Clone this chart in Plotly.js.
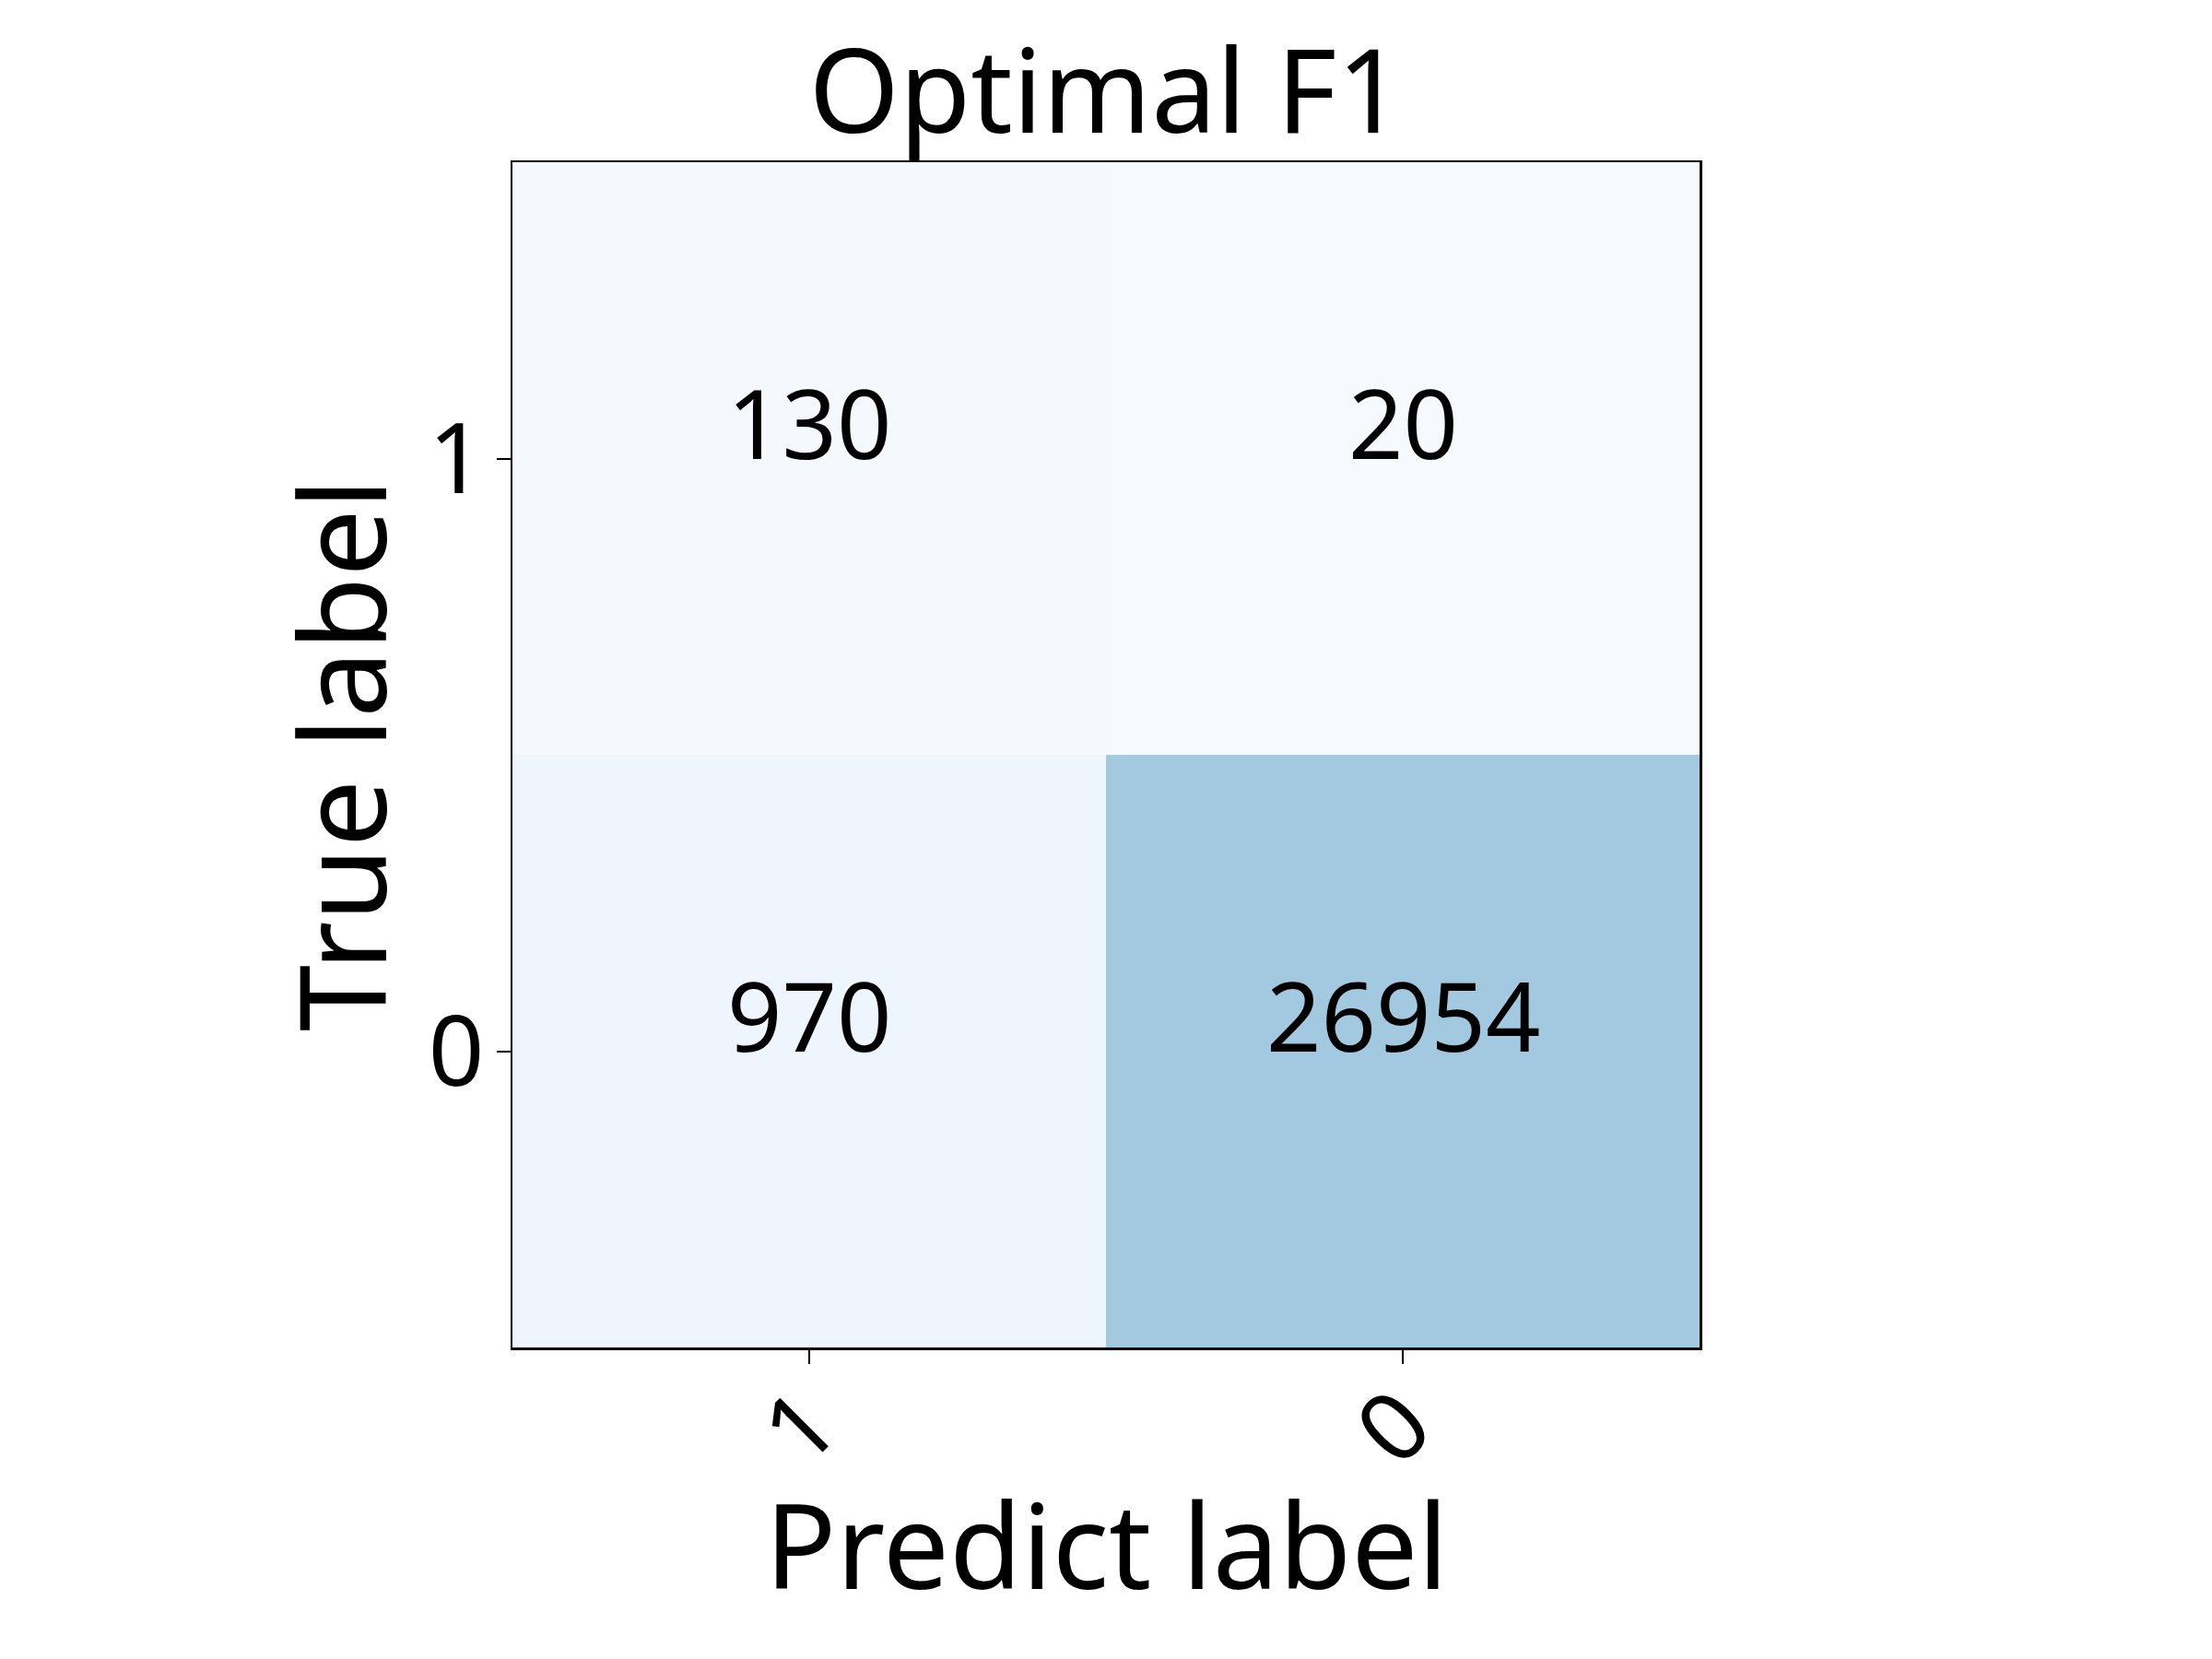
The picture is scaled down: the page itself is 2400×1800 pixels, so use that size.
<!DOCTYPE html>
<html>
<head>
<meta charset="utf-8">
<script src="https://cdn.plot.ly/plotly-3.0.1.min.js"></script>
<style>html,body{margin:0;padding:0;background:#fff;}</style>
</head>
<body>
<div id="chart" style="width:2400px;height:1800px;"></div>
<script>
// Data
const predictLabels = ['1', '0'];
const trueLabels = ['0', '1'];          // bottom to top
const rowTrue0 = [970, 26954];
const rowTrue1 = [130, 20];
const chartTitle = 'Optimal F1';
const xTitle = 'Predict label';
const yTitle = 'True label';

const z = [rowTrue0, rowTrue1];
const all = rowTrue1.concat(rowTrue0);
const zmin = Math.min(...all), zmax = Math.max(...all);
const nrm = v => (v - zmin) / (zmax - zmin);

const colorscale = [
  [0, '#f6faff'],
  [nrm(130), '#f5f9fe'],
  [nrm(970), '#eef5fc'],
  [1, '#a3c9e1']
];

const FONT = 'Noto Sans, Open Sans, DejaVu Sans, sans-serif';

const trace = {
  type: 'heatmap',
  x: predictLabels,
  y: trueLabels,
  z: z,
  zmin: zmin,
  zmax: zmax,
  colorscale: colorscale,
  showscale: false,
  hoverinfo: 'skip',
  xgap: 0, ygap: 0
};

// cell value labels
const annotations = [];
z.forEach((row, i) => {
  row.forEach((v, j) => {
    annotations.push({
      x: j, y: i, xref: 'x', yref: 'y',
      text: String(v), showarrow: false,
      yshift: 40,
      font: {family: FONT, size: 104, color: '#000000'}
    });
  });
});
// x-axis title
annotations.push({
  x: 0.5, y: -0.1649, xref: 'paper', yref: 'paper',
  xanchor: 'center', yanchor: 'middle',
  text: xTitle, showarrow: false,
  font: {family: FONT, size: 128, color: '#000000'}
});

const layout = {
  width: 2400,
  height: 1800,
  paper_bgcolor: '#ffffff',
  plot_bgcolor: '#ffffff',
  margin: {l: 556, r: 556, t: 176, b: 338, pad: 0},
  font: {family: FONT, color: '#000000'},
  title: {
    text: chartTitle,
    font: {family: FONT, size: 126, color: '#000000'},
    x: 0.5, xanchor: 'center',
    xref: 'paper',
    yref: 'container', y: 1 - 100 / 1800, yanchor: 'middle'
  },
  annotations: annotations,
  xaxis: {
    type: 'category',
    categoryorder: 'array',
    categoryarray: predictLabels,
    showline: true, mirror: true, linecolor: '#000000', linewidth: 2.5,
    ticks: 'outside', ticklen: 15, tickwidth: 2, tickcolor: '#000000',
    tickangle: -45,
    ticklabelstandoff: -36,
    tickfont: {family: FONT, size: 104, color: '#000000'},
    showgrid: false, zeroline: false,
    automargin: false
  },
  yaxis: {
    type: 'category',
    categoryorder: 'array',
    categoryarray: trueLabels,
    showline: true, mirror: true, linecolor: '#000000', linewidth: 2.5,
    ticks: 'outside', ticklen: 15, tickwidth: 2, tickcolor: '#000000',
    ticklabelstandoff: -8,
    tickfont: {family: FONT, size: 106, color: '#000000'},
    showgrid: false, zeroline: false,
    automargin: false,
    title: {text: yTitle, font: {family: FONT, size: 130, color: '#000000'}, standoff: 1}
  }
};

Plotly.newPlot('chart', [trace], layout, {displayModeBar: false, staticPlot: true});
</script>
</body>
</html>
